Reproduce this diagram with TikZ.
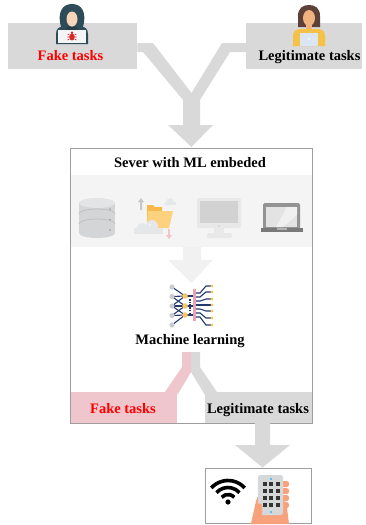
\documentclass[tikz,border=0pt]{standalone}
\usepackage{fontspec}
\setmainfont{Liberation Serif}
\definecolor{boxgray}{HTML}{D9D9D9}
\definecolor{bandgray}{HTML}{F4F4F4}
\definecolor{lightarrow}{HTML}{F1F1F1}
\definecolor{framegray}{HTML}{9E9E9E}
\definecolor{fakepink}{HTML}{EFC6CB}
\definecolor{fakered}{HTML}{FF0000}
\definecolor{hood}{HTML}{2D4B58}
\definecolor{skinA}{HTML}{F6D5B8}
\definecolor{skinB}{HTML}{F0B27E}
\definecolor{hair}{HTML}{5D4037}
\definecolor{shirt}{HTML}{F6C147}
\definecolor{screenblue}{HTML}{DCE6F2}
\definecolor{bugred}{HTML}{D62828}
\definecolor{navy}{HTML}{22396E}
\definecolor{mlyellow}{HTML}{F6C766}
\definecolor{mlpink}{HTML}{E8A6B4}
\definecolor{mlgray}{HTML}{C9CBCD}
\definecolor{handskin}{HTML}{F8A27C}
\definecolor{phonegray}{HTML}{D6D7D8}
\definecolor{keydark}{HTML}{333333}
\definecolor{dotblue}{HTML}{4FC3F7}
\definecolor{folderback}{HTML}{F9B94A}
\definecolor{folderfront}{HTML}{FCD27E}
\definecolor{cloud}{HTML}{E6E7E8}
\definecolor{dbbody}{HTML}{D3D5D6}
\definecolor{dbtop}{HTML}{E3E4E5}
\definecolor{dbline}{HTML}{BFC1C3}
\begin{document}
\begin{tikzpicture}[x=1pt,y=-1pt,
  lbl/.style={font=\fontsize{14.5}{17}\selectfont\bfseries, inner sep=0pt, anchor=base},
  fakelbl/.style={lbl, text=fakered},
  panel/.style={fill=boxgray, draw=none, inner sep=0pt, anchor=north west},
  frame/.style={draw=framegray, line width=0.9pt, fill=none, inner sep=0pt, anchor=north west},
  flow/.style={fill=boxgray},
]
\useasboundingbox (0,0) rectangle (366,525);

% ---- task sources ----
\node[panel, minimum width=129pt, minimum height=46pt] (fakesrc) at (8,23) {};
\node[panel, minimum width=116pt, minimum height=46pt] (legitsrc) at (246,23) {};

% merging arrow into the server
\fill[flow] (fakesrc.east |- 0,43) -- (153,43) -- (191.5,93) -- (222,43) -- (legitsrc.west |- 0,43)
  -- (legitsrc.west |- 0,52) -- (230,52) -- (200,100) -- (200,125) -- (213,125) -- (191.5,147)
  -- (168,125) -- (183,125) -- (183,100) -- (143,52) -- (fakesrc.east |- 0,52) -- cycle;

% attacker icon
\fill[hood] (56,44) -- (56,34) .. controls (56,28) and (60,27) .. (61,27)
  .. controls (57,13) and (62,4) .. (72,4) .. controls (82,4) and (87,13) .. (83,27)
  .. controls (84,27) and (88,28) .. (88,34) -- (88,44) -- cycle;
\fill[skinA] (72,19) ellipse (5.5 and 7.5);
\fill[hood!80!black] (66,27) -- (78,27) -- (76,30) -- (68,30) -- cycle;
\fill[white!92!gray] (58,30) rectangle (86,43);
\fill[bugred] (72,37) ellipse (2.8 and 3.4);
\fill[bugred] (72,32.8) circle (1.4);
\draw[bugred, line width=0.6pt] (69.2,35)--(67.5,34) (69.2,37)--(67.3,37) (69.2,39)--(67.5,40)
  (74.8,35)--(76.5,34) (74.8,37)--(76.7,37) (74.8,39)--(76.5,40);
\node[fakelbl] (fakesrclbl) at (70.5,60) {Fake tasks};

% legitimate user icon
\fill[hair] (298,27) -- (298,16) .. controls (298,8) and (303,5) .. (309,5)
  .. controls (315,5) and (320,8) .. (320,16) -- (320,27) -- cycle;
\fill[skinB] (309,18) ellipse (6 and 8);
\fill[hair] (303,12) .. controls (305,8) and (313,8) .. (315,12) -- (315,9) -- (303,9) -- cycle;
\fill[skinB] (306,24) rectangle (312,30);
\fill[shirt] (293,46) -- (293,36) .. controls (293,30) and (297,29) .. (302,29)
  -- (316,29) .. controls (321,29) and (325,30) .. (325,36) -- (325,46) -- cycle;
\fill[screenblue] (300,33) rectangle (318,46);
\fill[white] (309,39) circle (1);
\node[lbl] (legitsrclbl) at (309.5,60) {Legitimate tasks};

% ---- server ----
\node[frame, minimum width=242pt, minimum height=275pt] (server) at (70,148) {};
\node[lbl] (servertitle) at (190,167) {Sever with ML embeded};
\fill[bandgray] (70,175) rectangle (312.5,247);

% database
\fill[dbbody] (79,203) rectangle (115,233);
\fill[dbbody] (97,233) ellipse (18 and 5);
\fill[dbtop] (97,203) ellipse (18 and 5);
\draw[dbline, line width=0.8pt] (79,214) arc (180:360:18 and 5);
\draw[dbline, line width=0.8pt] (79,224) arc (180:360:18 and 5);
\foreach \yy in {209,219.5,230} \fill[gray!70] (110,\yy) circle (1);

% folder with cloud sync
\fill[gray!45] (141,198) -- (144,202) -- (142,202) -- (142,210) -- (140,210) -- (140,202) -- (138,202) -- cycle;
\fill[cloud] (165,202) rectangle (176,205);
\fill[cloud] (170,201.5) circle (3.5);
\fill[folderback] (147,208) -- (147,205) -- (153,205) -- (155,207) -- (162,207) -- (162,228) -- (147,228) -- cycle;
\fill[folderfront] (148,211) -- (173,211) -- (169,228) -- (147,228) -- cycle;
\fill[cloud] (134,228) rectangle (163,234);
\fill[cloud] (142,228) circle (5);
\fill[cloud] (152,226) circle (6);
\fill[white] (150,225) circle (0.8);
\fill[fakepink] (168,229) rectangle (170,236);
\fill[fakepink] (166,235) -- (172,235) -- (169,239) -- cycle;

% desktop monitor
\fill[gray!18, rounded corners=2pt] (197,198) rectangle (241,228);
\fill[gray!35] (200,201) rectangle (238,223);
\fill[gray!70] (219,226) circle (0.7);
\fill[gray!18] (214,228) rectangle (224,233);
\fill[gray!18, rounded corners=1.5pt] (207,233) rectangle (232,238);

% laptop
\fill[gray!85!white, rounded corners=1.5pt] (263,203) rectangle (300,229);
\fill[gray!22] (266,207) rectangle (297,227);
\fill[gray!12] (287,207) -- (297,207) -- (297,215) -- (283,227) -- (276,227) -- cycle;
\fill[gray!95!black] (261,228) rectangle (303,232);
\fill[gray!60] (277,228) rectangle (287,230);

% flow into the classifier
\fill[lightarrow] (183,247) -- (201,247) -- (201,260) -- (213,260) -- (191.5,283) -- (168,260) -- (183,260) -- cycle;

% neural network icon
\foreach \a/\b in {287/296,296.5/296,296.5/306,306/296,306/306,306/315,315.5/306,315.5/315,325/315}
  \draw[navy, line width=1.1pt] (172,\a) -- (185,\b);
\foreach \yy in {287,296.5,306,315.5,325} \fill[mlgray] (172,\yy) circle (2.6);
\foreach \yy in {296,306,315} {
  \draw[navy, line width=1.1pt] (185,\yy) -- (194,\yy);
  \fill[mlyellow] (185,\yy) circle (2.8);
}
\draw[navy, line width=1.1pt, dash pattern=on 1.5pt off 1.2pt] (190,299) -- (190,313);
\foreach \ya/\yb in {293/286,297/292,301/299,305/305,309/311,313/318,317/325} {
  \draw[navy, line width=1.1pt] (196,\ya) -- (200,\ya) -- (206,\yb) -- (211,\yb);
  \fill[mlyellow] (212,\yb) circle (1.6);
}
\fill[mlpink] (193,289) rectangle (196,321);
\node[lbl] (mllbl) at (190,344) {Machine learning};

% classifier outputs
\node[panel, fill=fakepink, minimum width=107pt, minimum height=31pt] (fakeout) at (70,392) {};
\node[panel, minimum width=107pt, minimum height=31pt] (legitout) at (205,392) {};
\fill[fakepink] (182,352) -- (191,352) -- (191,372) -- (fakeout.east |- 0,395) -- (fakeout.north east)
  -- (165,392) -- (182,367) -- cycle;
\fill[flow] (191,352) -- (200,352) -- (200,367) -- (217,392) -- (legitout.north west)
  -- (legitout.west |- 0,395) -- (191,372) -- cycle;
\node[fakelbl] (fakeoutlbl) at (123,413) {Fake tasks};
\node[lbl] (legitoutlbl) at (258,413) {Legitimate tasks};
\draw[framegray, line width=0.9pt] (server.north west) rectangle (server.south east);

% forwarding to the user device
\node[frame, minimum width=106pt, minimum height=55pt] (device) at (205,468) {};
\fill[flow] (255,423) -- (270,423) -- (270,445) -- (290,445) -- (262.5,467.5) -- (235,445) -- (255,445) -- cycle;

% wifi symbol
\fill (228,502) circle (2.6);
\foreach \r in {8.5,15.5,22.5}
  \draw[line width=3.6pt] (228,503) ++(222:\r) arc (222:318:\r);

% hand holding a phone
\fill[handskin] (251,524) -- (256,501) .. controls (257,496) and (260,494) .. (264,494)
  -- (282,494) -- (287,508) -- (289,524) -- cycle;
\foreach \yy in {484,491,498,505}
  \fill[handskin, rounded corners=2.5pt] (279,\yy-3) rectangle (289,\yy+3.2);
\fill[phonegray, rounded corners=2.5pt] (258,475) rectangle (283,515);
\foreach \xx in {263,269.5,276}
  \foreach \yy in {484,491,498,505}
    \fill[keydark] (\xx-0.5,\yy-2) rectangle (\xx+3.5,\yy+2);
\fill[dotblue] (269.7,478.3) rectangle (271.7,480.3);
\fill[dotblue] (270.2,511) rectangle (272.2,513);
\fill[handskin] (251,524) -- (255,508) .. controls (257,503) and (260,502) .. (262,505)
  -- (262,524) -- cycle;
\end{tikzpicture}
\end{document}
